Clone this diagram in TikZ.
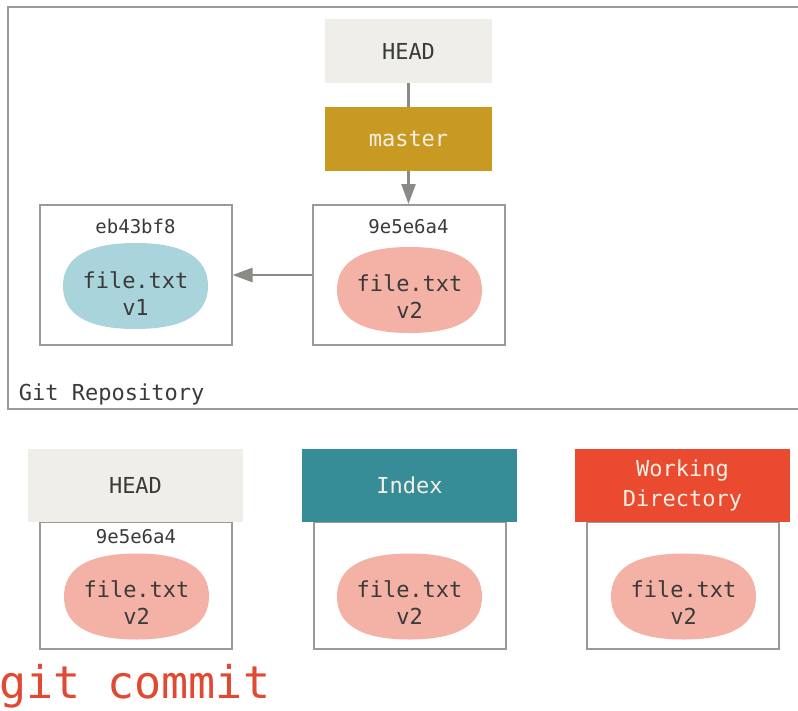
\documentclass[tikz,border=0pt]{standalone}
\usepackage{fontspec}
\setmainfont{DejaVu Sans Mono}
\usetikzlibrary{arrows.meta}
\definecolor{headfill}{HTML}{EFEEE8}
\definecolor{masterfill}{HTML}{C99A22}
\definecolor{indexfill}{HTML}{378D97}
\definecolor{wdfill}{HTML}{EA4A30}
\definecolor{bluefill}{HTML}{A9D4DB}
\definecolor{pinkfill}{HTML}{F4B2A6}
\definecolor{boxline}{HTML}{9A9A98}
\definecolor{arrowgray}{HTML}{8C8A86}
\definecolor{darktext}{HTML}{3A3A3A}
\definecolor{lighttext}{HTML}{F6F0E4}
\definecolor{cmdred}{HTML}{E04A33}
\tikzset{
  x=1pt, y=-1pt,
  lbl/.style={inner sep=0pt, outer sep=0pt, text=darktext, font=\fontsize{22}{27}\selectfont},
  hdr/.style={lbl, minimum width=215pt, minimum height=73pt, align=center, font=\fontsize{22}{30}\selectfont},
  tophdr/.style={lbl, minimum width=167pt, minimum height=64pt},
  commitbox/.style={draw=boxline, line width=2pt, fill=white, minimum width=192pt, minimum height=140pt, inner sep=0pt},
  treebox/.style={draw=boxline, line width=2pt, fill=white, minimum width=192pt, minimum height=127pt, inner sep=0pt},
  blob/.style={lbl, minimum width=145pt, minimum height=86pt, align=center},
  hash/.style={lbl, font=\fontsize{19}{24}\selectfont},
  conn/.style={draw=arrowgray, line width=2.5pt},
  tip/.style={-{Triangle[length=20pt,width=14pt]}}
}
% superellipse-like blob fill: colour, centre x, centre y
\newcommand\blobfill[3]{%
  \fill[#1] ({#2-72.5},{#3})
    .. controls ({#2-72.5},{#3-28.5}) and ({#2-48},{#3-43}) .. ({#2},{#3-43})
    .. controls ({#2+48},{#3-43}) and ({#2+72.5},{#3-28.5}) .. ({#2+72.5},{#3})
    .. controls ({#2+72.5},{#3+28.5}) and ({#2+48},{#3+43}) .. ({#2},{#3+43})
    .. controls ({#2-48},{#3+43}) and ({#2-72.5},{#3+28.5}) .. ({#2-72.5},{#3}) -- cycle;}
\begin{document}
\begin{tikzpicture}
\useasboundingbox (0,0) rectangle (798,710);
\fill[white] (0,0) rectangle (798,710);
% Git repository frame
\draw[draw=boxline, line width=2pt] (806,7) -- (8,7) -- (8,409) -- (806,409);
\node[lbl, anchor=west] (repo) at (19,394) {Git Repository};
% top refs
\node[tophdr, fill=headfill] (head) at (408.5,51) {HEAD};
\node[tophdr, fill=masterfill, text=lighttext] (master) at (408.5,139) {master};
% commits
\node[commitbox] (c1) at (135.5,275) {};
\node[hash] (c1lbl) at (135.5,226) {eb43bf8};
\blobfill{bluefill}{135.5}{286}
\node[blob] (b1) at (135.5,294) {file.txt\\v1};
\node[commitbox] (c2) at (408.5,275) {};
\node[hash] (c2lbl) at (408.5,227) {9e5e6a4};
\blobfill{pinkfill}{409.5}{290}
\node[blob] (b2) at (409.5,297) {file.txt\\v2};
% connectors
\draw[conn] (head.south) -- (master.north);
\draw[conn, tip] (master.south) -- (c2.north);
\draw[conn, tip] (c2.west) -- (c1.east);
% bottom: three trees
\node[treebox] (t1) at (136,585.5) {};
\node[hdr, fill=headfill] (h1) at (135.5,485.5) {HEAD};
\node[hash] (t1lbl) at (136,537) {9e5e6a4};
\blobfill{pinkfill}{136.5}{596.5}
\node[blob] (tb1) at (136.5,603) {file.txt\\v2};
\node[treebox] (t2) at (410,585.5) {};
\node[hdr, fill=indexfill, text=lighttext] (h2) at (409.5,485.5) {Index};
\blobfill{pinkfill}{409.5}{596.5}
\node[blob] (tb2) at (409.5,603) {file.txt\\v2};
\node[treebox] (t3) at (682.5,585.5) {};
\node[hdr, fill=wdfill, text=lighttext] (h3) at (682.5,485.5) {Working\\Directory};
\blobfill{pinkfill}{683.5}{596.5}
\node[blob] (tb3) at (683.5,603) {file.txt\\v2};
% command
\node[inner sep=0pt, anchor=base west, text=cmdred, font=\fontsize{45}{50}\selectfont] (cmd) at (-1,698) {git commit};
\end{tikzpicture}
\end{document}
